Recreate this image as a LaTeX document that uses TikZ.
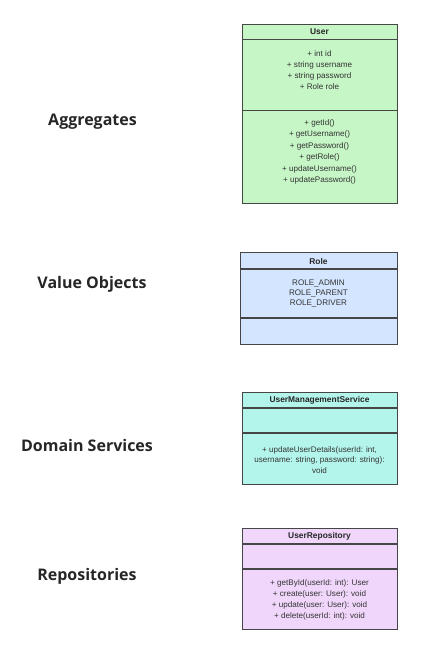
\documentclass[tikz,border=0pt]{standalone}
\usepackage{fontspec}
\setmainfont{Liberation Sans}
\newfontfamily\layerfont{Open Sans}
\definecolor{umlline}{RGB}{70,70,70}
\definecolor{aggfill}{RGB}{198,245,198}
\definecolor{valfill}{RGB}{212,230,255}
\definecolor{srvfill}{RGB}{180,245,235}
\definecolor{repfill}{RGB}{240,214,250}
\tikzset{
  layer/.style={font=\layerfont\bfseries\fontsize{16}{18}\selectfont, text=black!85},
  classbody/.style={draw=umlline, line width=0.8pt},
  headline/.style={draw=umlline, line width=1.3pt},
  classtitle/.style={font=\bfseries\fontsize{8.4}{10}\selectfont, text=black!85},
  members/.style={align=center, text=black!80, inner sep=0pt},
}
\begin{document}
\begin{tikzpicture}[x=1pt, y=-1pt]
\useasboundingbox (0,0) rectangle (422,652);
\def \xl     {242}
\def \xr     {397}
\def \xmid   {319.5}

% layer names
\node [layer] (aggregates) at (92.5, 121.5) {Aggregates};
\node [layer] (valueobjects) at (92, 284.5) {Value Objects};
\node [layer] (domainservices) at (87, 445.5) {Domain Services};
\node [layer] (repositories) at (87, 576) {Repositories};

% User
\filldraw [classbody, fill=aggfill] (\xl, 24) rectangle (\xr, 203);
\draw [headline] (\xl, 39.5) -- (\xr, 39.5);
\draw [headline] (\xl, 110.5) -- (\xr, 110.5);
\node [classtitle] (user) at (\xmid, 32) {User};
\node [members, font=\fontsize{8.1}{11.1}\selectfont] (userattrs) at (\xmid, 70)
  {+ int id\\+ string username\\+ string password\\+ Role role};
\node [members, font=\fontsize{8.1}{11.4}\selectfont] (userops) at (\xmid, 152)
  {+ getId()\\+ getUsername()\\+ getPassword()\\+ getRole()\\+ updateUsername()\\+ updatePassword()};

% Role
\filldraw [classbody, fill=valfill] (240, 252) rectangle (\xr, 344);
\draw [headline] (240, 269) -- (\xr, 269);
\draw [headline] (240, 318) -- (\xr, 318);
\node [classtitle] (role) at (318.5, 261) {Role};
\node [members, font=\fontsize{8.1}{10.2}\selectfont] (roleattrs) at (318.5, 293.5)
  {ROLE\_ADMIN\\ROLE\_PARENT\\ROLE\_DRIVER};

% UserManagementService
\filldraw [classbody, fill=srvfill] (\xl, 392) rectangle (\xr, 484);
\draw [headline] (\xl, 408) -- (\xr, 408);
\draw [headline] (\xl, 433) -- (\xr, 433);
\node [classtitle] (service) at (\xmid, 400.5) {UserManagementService};
\node [members, font=\fontsize{8.1}{10.6}\selectfont] (serviceops) at (\xmid, 460)
  {+ updateUserDetails(userId: int,\\username: string, password: string):\\void};

% UserRepository
\filldraw [classbody, fill=repfill] (\xl, 528) rectangle (\xr, 629);
\draw [headline] (\xl, 544) -- (\xr, 544);
\draw [headline] (\xl, 569) -- (\xr, 569);
\node [classtitle] (repository) at (\xmid, 536) {UserRepository};
\node [members, font=\fontsize{8.1}{11.1}\selectfont] (repositoryops) at (\xmid, 600)
  {+ getById(userId: int): User\\+ create(user: User): void\\+ update(user: User): void\\+ delete(userId: int): void};

\end{tikzpicture}
\end{document}
